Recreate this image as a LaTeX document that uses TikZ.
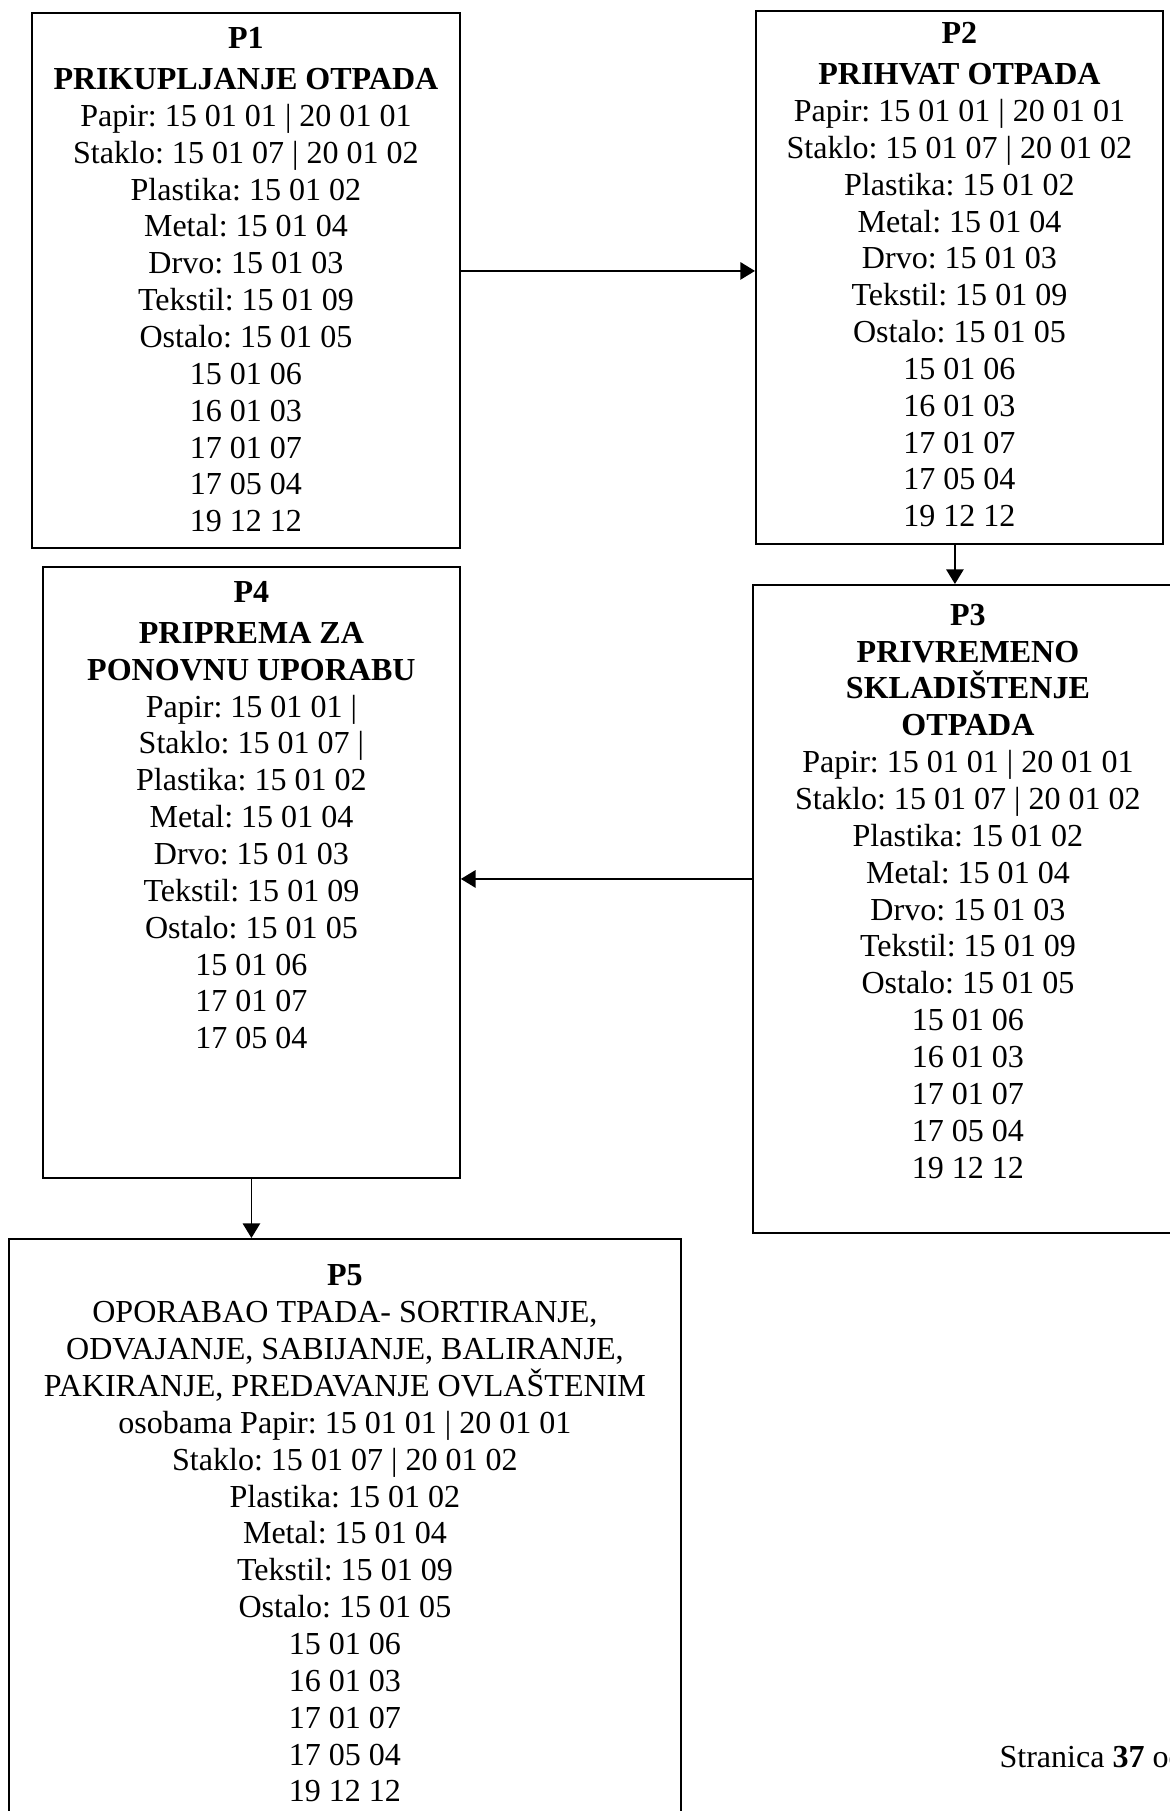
\documentclass[tikz,border=0pt]{standalone}
\usepackage{fontspec}
\setmainfont{Liberation Serif}
\usepackage{tikz}
\usetikzlibrary{arrows.meta,positioning,calc}
\newcommand{\pxl}{0.3745pt}
\frenchspacing

\begin{document}
\begin{tikzpicture}[x=\pxl,y=-\pxl,>={Triangle[length=5.5pt,width=6.5pt]},
  box/.style={draw,line width=0.7pt,anchor=north west,inner sep=0pt},
  boxtext/.style={align=center,inner sep=0pt,font=\fontsize{12}{13.8}\selectfont},
  flow/.style={->,line width=0.7pt}]
  \useasboundingbox (0,0) rectangle (1170,1811);
  % process boxes
  \node[box,minimum width=428*\pxl,minimum height=535*\pxl] (P1) at (31,12) {};
  \node[box,minimum width=407*\pxl,minimum height=533*\pxl] (P2) at (755,10) {};
  \node[box,minimum width=430*\pxl,minimum height=648*\pxl] (P3) at (752,584) {};
  \node[box,minimum width=417*\pxl,minimum height=611*\pxl] (P4) at (42,566) {};
  \node[box,minimum width=672*\pxl,minimum height=600*\pxl] (P5) at (8,1238) {};
  % box contents
  \node[boxtext,below=5.4pt of P1.north] (P1text) {\textbf{P1}\\[1.7pt]\textbf{PRIKUPLJANJE OTPADA}\\
    Papir: 15 01 01 | 20 01 01\\Staklo: 15 01 07 | 20 01 02\\Plastika: 15 01 02\\Metal: 15 01 04\\
    Drvo: 15 01 03\\Tekstil: 15 01 09\\Ostalo: 15 01 05\\15 01 06\\16 01 03\\17 01 07\\17 05 04\\19 12 12};
  \node[boxtext,below=4.3pt of P2.north] (P2text) {\textbf{P2}\\[1.7pt]\textbf{PRIHVAT OTPADA}\\
    Papir: 15 01 01 | 20 01 01\\Staklo: 15 01 07 | 20 01 02\\Plastika: 15 01 02\\Metal: 15 01 04\\
    Drvo: 15 01 03\\Tekstil: 15 01 09\\Ostalo: 15 01 05\\15 01 06\\16 01 03\\17 01 07\\17 05 04\\19 12 12};
  \node[boxtext,below=7.3pt of P3.north] (P3text) {\textbf{P3}\\\textbf{PRIVREMENO}\\\textbf{SKLADIŠTENJE}\\\textbf{OTPADA}\\
    Papir: 15 01 01 | 20 01 01\\Staklo: 15 01 07 | 20 01 02\\Plastika: 15 01 02\\Metal: 15 01 04\\
    Drvo: 15 01 03\\Tekstil: 15 01 09\\Ostalo: 15 01 05\\15 01 06\\16 01 03\\17 01 07\\17 05 04\\19 12 12};
  \node[boxtext,below=5.4pt of P4.north] (P4text) {\textbf{P4}\\[1.7pt]\textbf{PRIPREMA ZA}\\\textbf{PONOVNU UPORABU}\\
    Papir: 15 01 01 |\\Staklo: 15 01 07 |\\Plastika: 15 01 02\\Metal: 15 01 04\\
    Drvo: 15 01 03\\Tekstil: 15 01 09\\Ostalo: 15 01 05\\15 01 06\\17 01 07\\17 05 04};
  \node[boxtext,below=9.9pt of P5.north] (P5text) {\textbf{P5}\\OPORABAO TPADA- SORTIRANJE,\\
    ODVAJANJE, SABIJANJE, BALIRANJE,\\PAKIRANJE, PREDAVANJE OVLAŠTENIM\\
    osobama Papir: 15 01 01 | 20 01 01\\Staklo: 15 01 07 | 20 01 02\\Plastika: 15 01 02\\Metal: 15 01 04\\
    Tekstil: 15 01 09\\Ostalo: 15 01 05\\15 01 06\\16 01 03\\17 01 07\\17 05 04\\19 12 12};
  \node[boxtext,anchor=base west] (page) at (999,1767) {Stranica \textbf{37} od};
  % flow
  \coordinate (P1out) at ($(P1.east)+(0,-9.5)$);
  \draw[flow] (P1out) -- (P1out -| P2.west);
  \coordinate (P2out) at ($(P2.south)+(-4.5,0)$);
  \draw[flow] (P2out) -- (P2out |- P3.north);
  \coordinate (P4in) at ($(P4.east)+(0,6.5)$);
  \draw[flow] (P4in -| P3.west) -- (P4in);
  \draw[flow] (P4.south) -- (P4.south |- P5.north);
\end{tikzpicture}
\end{document}
